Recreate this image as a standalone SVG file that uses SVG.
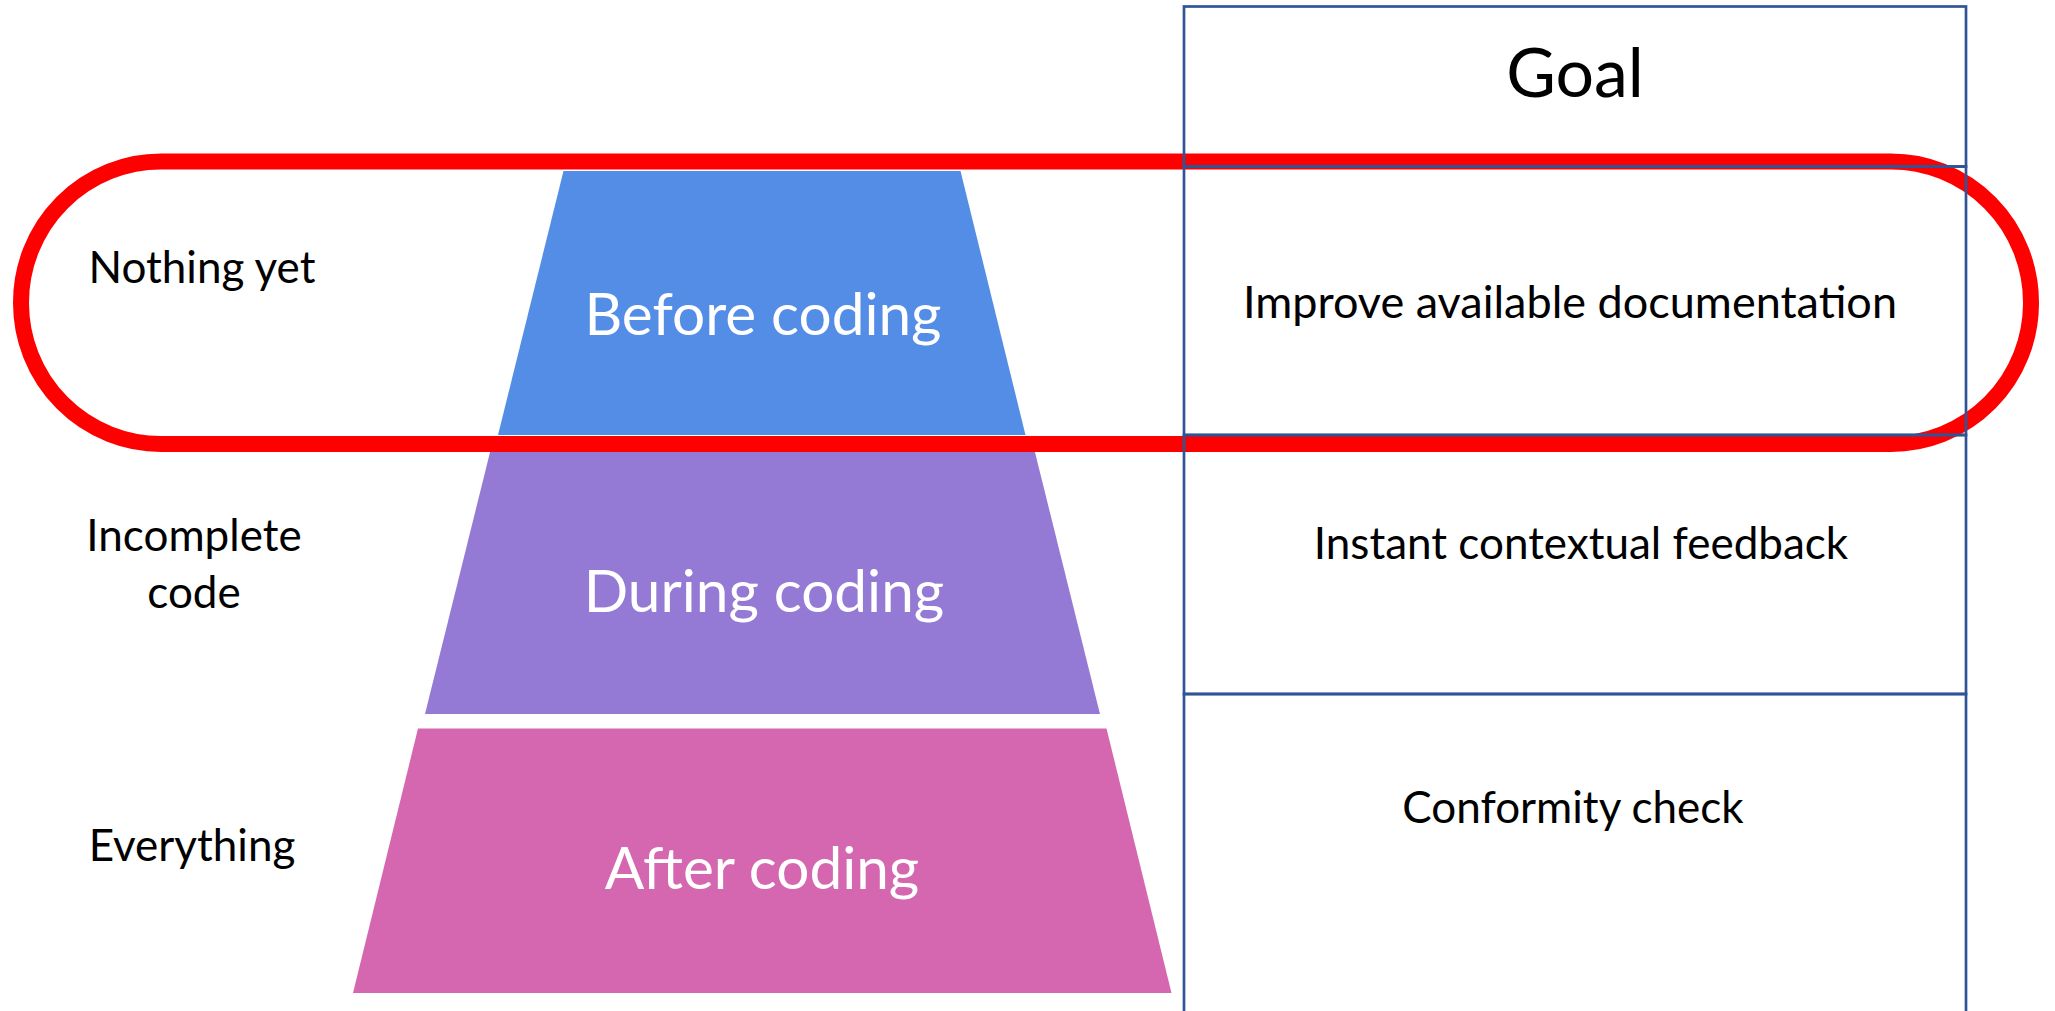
<svg xmlns="http://www.w3.org/2000/svg" width="2055" height="1011" viewBox="0 0 2055 1011">
  <style>
    text { font-family: Lato, "Open Sans", "Liberation Sans", sans-serif; }
    .lbl { font-size: 44px; fill: #000000; text-anchor: middle; }
    .stage { font-size: 58.5px; fill: #FFFFFF; text-anchor: middle; }
    .goal { font-size: 68px; fill: #000000; text-anchor: middle; }
    .cell { fill: none; stroke: #2F5597; stroke-width: 2.7; }
    .focus { fill: none; stroke: #FF0000; stroke-width: 16; }
  </style>
  <rect x="0" y="0" width="2055" height="1011" fill="#FFFFFF"/>

  <!-- pyramid stages -->
  <g id="stage-before">
    <polygon points="563.5,171 960.5,171 1025.5,435 498,435" fill="#548DE6"/>
    <text class="stage" x="763" y="335">Before coding</text>
  </g>
  <g id="stage-during">
    <polygon points="493.8,437 1031.2,437 1100,714 425,714" fill="#947AD4"/>
    <text class="stage" x="764" y="612">During coding</text>
  </g>
  <g id="stage-after">
    <polygon points="418,728.5 1106.5,728.5 1171.5,993 353,993" fill="#D467AF"/>
    <text class="stage" x="762" y="889">After coding</text>
  </g>

  <!-- code availability labels -->
  <g id="label-nothing">
    <text class="lbl" x="202" y="283">Nothing yet</text>
  </g>
  <g id="label-incomplete">
    <text class="lbl" x="194" y="551">Incomplete</text>
    <text class="lbl" x="194" y="608">code</text>
  </g>
  <g id="label-everything">
    <text class="lbl" x="192" y="861">Everything</text>
  </g>

  <!-- highlight around the first row -->
  <g id="connectors">
    <rect class="focus" x="21" y="161.5" width="2010" height="282.5" rx="140" ry="141"/>
  </g>

  <!-- goal table -->
  <g id="goal-header">
    <rect class="cell" x="1184" y="6.5" width="782" height="160"/>
    <text class="goal" x="1575" y="97">Goal</text>
  </g>
  <g id="goal-docs">
    <rect class="cell" x="1184" y="166.5" width="782" height="268.5"/>
    <text class="lbl" x="1570" y="318" style="font-size:45px">Improve available documentation</text>
  </g>
  <g id="goal-feedback">
    <rect class="cell" x="1184" y="435" width="782" height="259"/>
    <text class="lbl" x="1581" y="559">Instant contextual feedback</text>
  </g>
  <g id="goal-conformity">
    <rect class="cell" x="1184" y="694" width="782" height="330"/>
    <text class="lbl" x="1573" y="823">Conformity check</text>
  </g>
</svg>
